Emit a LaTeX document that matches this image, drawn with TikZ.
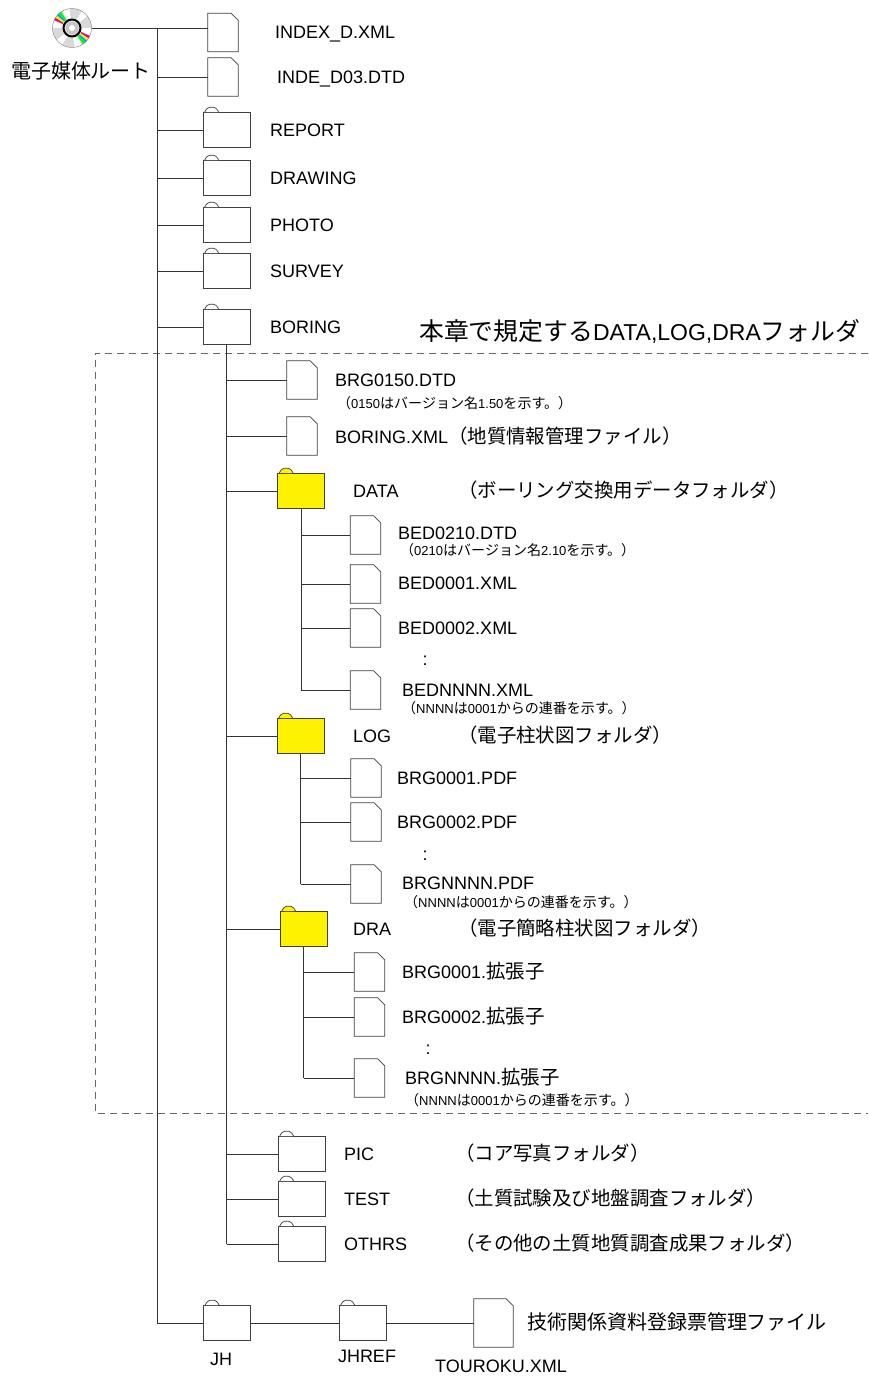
\documentclass[tikz,border=0pt]{standalone}
\usepackage{fontspec}
\usepackage{graphicx}
\setmainfont{Liberation Sans}
\newfontfamily\jpfont[Scale=1.08]{Noto Sans CJK JP}
\newcommand\jp[1]{{\jpfont #1}}
\newcommand\nmfont{\fontsize{18}{20}\selectfont}
\newcommand\notefont{\fontsize{13}{15}\selectfont}

\tikzset{
  conn/.style={draw=black!80, line width=0.8pt},
  frame/.style={draw=black!60, line width=0.8pt, dash pattern=on 7pt off 5pt},
  fcol/.store in=\fcol, fcol=white,
  fw/.store in=\fw, fw=30,
  fh/.store in=\fh, fh=38,
  pics/folder/.style={code={
    \node[draw=black!75, line width=0.7pt, fill=\fcol, minimum width=47pt,
          minimum height=35pt, inner sep=0pt] (-box) {};
    \draw[black!75, line width=0.7pt, fill=\fcol, rounded corners=2pt]
      ([xshift=2pt]-box.north west) -- ++(3,-5) -- ++(8,0) -- ++(3,5);
  }},
  pics/file/.style={code={
    \node[minimum width=\fw pt, minimum height=\fh pt, inner sep=0pt] (-box) {};
    \draw[black!75, line width=0.7pt, fill=white]
      (-box.south west) -- (-box.north west) -- ([xshift=-7pt]-box.north east)
      -- ([yshift=-7pt]-box.north east) -- (-box.south east) -- cycle;
  }},
  lbl/.style={anchor=west, inner sep=0pt, text height=13pt, text depth=0pt, font=\nmfont},
  note/.style={anchor=west, inner sep=0pt, font=\notefont},
}

\begin{document}
\begin{tikzpicture}[x=1pt,y=-1pt]
  \useasboundingbox (0,0) rectangle (868,1376);
  %\draw[help lines,step=50] (0,0) grid (868,1376);

  % root disc
  \node[circle, minimum size=39pt, inner sep=0pt] (cd) at (72,28) {};
  \fill[gray!30] (cd.center) circle (19.5);
  \foreach \a in {0,60,...,300}
    \fill[white] (cd.center) -- ++(\a:19.5) arc[start angle=\a, delta angle=22, radius=19.5] -- cycle;
  \foreach \c [count=\i] in {magenta,yellow,cyan,green}{
    \fill[\c] (cd.center) -- ++({196+8*\i}:19.5) arc[start angle={196+8*\i}, delta angle=8, radius=19.5] -- cycle;
    \fill[\c] (cd.center) -- ++({16+8*\i}:19.5) arc[start angle={16+8*\i}, delta angle=8, radius=19.5] -- cycle;
  }
  \draw[gray] (cd.center) circle (19.5);
  \fill[gray!15] (cd.center) circle (10);
  \draw[line width=2pt] (cd.center) circle (8.5);
  \fill[gray!45] (cd.center) circle (6.5);
  \fill[white] (cd.center) circle (3);
  \node[inner sep=0pt, font=\fontsize{18.5}{21}\selectfont\jpfont] (cd-lbl) at (81,71) {電子媒体ルート};

  % top level files
  \pic (indexd) at (223,32.5) {file};
  \pic (inded) at (223,77) {file};
  \coordinate (trunk-top) at (157,28);
  \coordinate (trunk-bot) at (157,1323);
  \coordinate (inded-b) at (157,77);
  \draw[conn] (cd.east) -- (cd.east -| indexd-box.west);
  \draw[conn] (inded-b) -- (inded-box.west);
  \node[lbl] (indexd-lbl) at (275,32) {INDEX\_D.XML};
  \node[lbl] (inded-lbl) at (277,77) {INDE\_D03.DTD};

  % top level folders
  \foreach \nm/\y/\lab in {report/130/REPORT, drawing/178/DRAWING, photo/225/PHOTO,
                           survey/271/SURVEY, boring/327/BORING}{
    \pic (\nm) at (226.5,\y) {folder};
    \coordinate (\nm-b) at (157,\y);
    \draw[conn] (\nm-b) -- (\nm-box.west);
    \node[lbl] (\nm-lbl) at (270,\y) {\lab};
  }

  \node[anchor=west, inner sep=0pt, font=\fontsize{23}{26}\selectfont] (title) at (419,331)
    {\jp{本章で規定する}DATA,LOG,DRA\jp{フォルダ}};
  \draw[frame] (868,353) -- (95,353) -- (95,1113) -- (868,1113);

  % BORING
  \coordinate (boring-end) at (226.5,1244);
  \draw[conn] (boring-box.south) -- (boring-end);
  \foreach \nm/\y in {brg0150/380, boringxml/436}{
    \pic (\nm) at (302,\y) {file};
    \coordinate (\nm-b) at (226.5,\y);
    \draw[conn] (\nm-b) -- (\nm-box.west);
  }
  \node[lbl] (brg0150-lbl) at (335,380) {BRG0150.DTD};
  \node[note] (brg0150-note) at (337,403) {\jp{（}0150\jp{はバージョン名}1.50\jp{を示す。）}};
  \node[lbl] (boringxml-lbl) at (335,437) {BORING.XML\jp{（地質情報管理ファイル）}};

  \foreach \nm/\x/\y/\lab/\desc in {data/301/491/DATA/ボーリング交換用データフォルダ,
                                    log/300.5/736/LOG/電子柱状図フォルダ,
                                    dra/303.5/929/DRA/電子簡略柱状図フォルダ}{
    \pic[fcol=yellow] (\nm) at (\x,\y) {folder};
    \coordinate (\nm-b) at (226.5,\y);
    \draw[conn] (\nm-b) -- (\nm-box.west);
    \node[lbl] (\nm-lbl) at (353,\y) {\lab};
    \node[lbl] (\nm-desc) at (458,\y) {\jp{（\desc）}};
  }

  % DATA
  \coordinate (data-end) at (301,690);
  \draw[conn] (data-box.south) -- (data-end);
  \foreach \nm/\y in {bed0210/535, bed0001/584, bed0002/628, bednnnn/690}{
    \pic (\nm) at (365.5,\y) {file};
    \coordinate (\nm-b) at (301,\y);
    \draw[conn] (\nm-b) -- (\nm-box.west);
  }
  \node[lbl] (bed0210-lbl) at (398,533) {BED0210.DTD};
  \node[note] (bed0210-note) at (400,550) {\jp{（}0210\jp{はバージョン名}2.10\jp{を示す。）}};
  \node[lbl] (bed0001-lbl) at (398,583) {BED0001.XML};
  \node[lbl] (bed0002-lbl) at (398,628) {BED0002.XML};
  \node[lbl, anchor=center] (data-dots) at (425,659) {:};
  \node[lbl] (bednnnn-lbl) at (402,690) {BEDNNNN.XML};
  \node[note] (bednnnn-note) at (402,708) {\jp{（}NNNN\jp{は}0001\jp{からの連番を示す。）}};

  % LOG
  \coordinate (log-end) at (300.5,884);
  \draw[conn] (log-box.south) -- (log-end);
  \foreach \nm/\y in {brg0001pdf/778, brg0002pdf/822, brgnnnnpdf/884}{
    \pic (\nm) at (366,\y) {file};
    \coordinate (\nm-b) at (300.5,\y);
    \draw[conn] (\nm-b) -- (\nm-box.west);
  }
  \node[lbl] (brg0001pdf-lbl) at (397,778) {BRG0001.PDF};
  \node[lbl] (brg0002pdf-lbl) at (397,822) {BRG0002.PDF};
  \node[lbl, anchor=center] (log-dots) at (425,854) {:};
  \node[lbl] (brgnnnnpdf-lbl) at (402,883) {BRGNNNN.PDF};
  \node[note] (brgnnnnpdf-note) at (404,902) {\jp{（}NNNN\jp{は}0001\jp{からの連番を示す。）}};

  % DRA
  \coordinate (dra-end) at (303.5,1078);
  \draw[conn] (dra-box.south) -- (dra-end);
  \foreach \nm/\y in {brg0001ext/972, brg0002ext/1017, brgnnnnext/1078}{
    \pic (\nm) at (369.5,\y) {file};
    \coordinate (\nm-b) at (303.5,\y);
    \draw[conn] (\nm-b) -- (\nm-box.west);
  }
  \node[lbl] (brg0001ext-lbl) at (402,972) {BRG0001.\jp{拡張子}};
  \node[lbl] (brg0002ext-lbl) at (402,1017) {BRG0002.\jp{拡張子}};
  \node[lbl, anchor=center] (dra-dots) at (428,1048) {:};
  \node[lbl] (brgnnnnext-lbl) at (405,1078) {BRGNNNN.\jp{拡張子}};
  \node[note] (brgnnnnext-note) at (405,1100) {\jp{（}NNNN\jp{は}0001\jp{からの連番を示す。）}};

  % other folders below BORING
  \foreach \nm/\y/\lab/\desc in {picdir/1154/PIC/コア写真フォルダ,
                                 testdir/1199/TEST/土質試験及び地盤調査フォルダ,
                                 othrsdir/1244/OTHRS/その他の土質地質調査成果フォルダ}{
    \pic (\nm) at (301.5,\y) {folder};
    \coordinate (\nm-b) at (226.5,\y);
    \draw[conn] (\nm-b) -- (\nm-box.west);
    \node[lbl] (\nm-lbl) at (344,\y) {\lab};
    \node[lbl] (\nm-desc) at (455,\y) {\jp{（\desc）}};
  }

  % JH
  \pic (jh) at (227,1323) {folder};
  \pic (jhref) at (362.5,1323) {folder};
  \pic[fw=39, fh=48] (touroku) at (493.5,1323) {file};
  \draw[conn] (trunk-top) -- (trunk-bot) -- (jh-box.west);
  \draw[conn] (jh-box.east) -- (jhref-box.west);
  \draw[conn] (jhref-box.east) -- (touroku-box.west);
  \node[lbl, anchor=center] (jh-lbl) at (221,1359) {JH};
  \node[lbl, anchor=center] (jhref-lbl) at (367,1356) {JHREF};
  \node[lbl, anchor=center] (touroku-lbl) at (501,1366) {TOUROKU.XML};
  \node[lbl, font=\fontsize{18.5}{21}\selectfont] (touroku-desc) at (527,1323) {\jp{技術関係資料登録票管理ファイル}};
\end{tikzpicture}
\end{document}
